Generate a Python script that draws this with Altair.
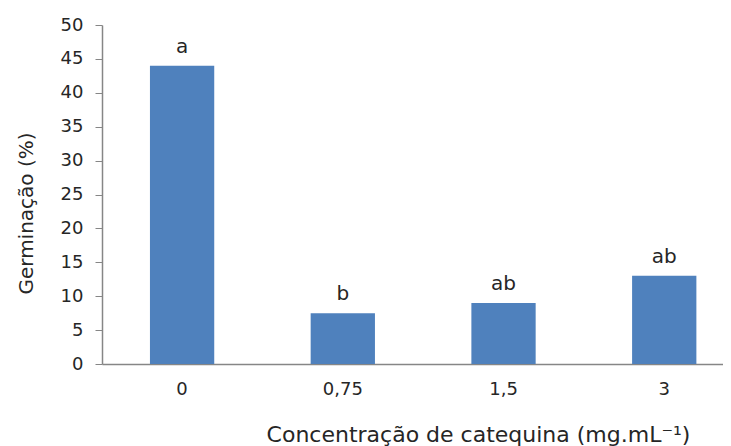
import altair as alt
import pandas as pd

categories = ["0", "0,75", "1,5", "3"]
germinacao = [44.0, 7.5, 9.0, 13.0]
letras = ["a", "b", "ab", "ab"]
y_ticks = [0, 5, 10, 15, 20, 25, 30, 35, 40, 45, 50]

df = pd.DataFrame({"conc": categories, "germ": germinacao, "letra": letras})

FONT = "DejaVu Sans"
TXT = "#262626"

x = alt.X(
    "conc:N",
    sort=categories,
    scale=alt.Scale(paddingInner=0.6, paddingOuter=0.232, align=0.643),
    axis=alt.Axis(
        title="Concentração de catequina (mg.mL⁻¹)",
        labelAngle=0,
        ticks=False,
        grid=False,
        labelPadding=16,
        labelFontSize=18,
        labelFont=FONT,
        labelColor=TXT,
        titleFont=FONT,
        titleFontSize=22,
        titleFontWeight="normal",
        titleColor=TXT,
        titleX=376,
        titleY=77,
        titleAlign="center",
        titleBaseline="alphabetic",
        domainColor="#868686",
        domainWidth=1.5,
    ),
)

y = alt.Y(
    "germ:Q",
    scale=alt.Scale(domain=[0, 50], nice=False),
    axis=alt.Axis(
        title="Germinação (%)",
        values=y_ticks,
        labelOverlap=False,
        grid=False,
        tickSize=7,
        tickColor="#868686",
        domainColor="#868686",
        domainWidth=1.5,
        labelPadding=12,
        labelFontSize=18,
        labelFont=FONT,
        labelColor=TXT,
        titleFont=FONT,
        titleFontSize=20,
        titleFontWeight="normal",
        titleColor=TXT,
        titlePadding=24,
        titleY=188,
        titleAlign="center",
    ),
)

bars = alt.Chart(df).mark_bar(color="#4F81BD").encode(x=x, y=y)

labels = alt.Chart(df).mark_text(
    baseline="bottom", dy=-9, fontSize=20, font=FONT, color=TXT
).encode(x=x, y=y, text="letra:N")

chart = (
    alt.layer(bars, labels)
    .properties(
        width=621,
        height=339,
        background="white",
        autosize=alt.AutoSizeParams(type="none"),
        padding={"left": 94, "top": 17, "right": 0, "bottom": 82},
    )
    .configure_view(strokeWidth=0)
    .configure_axis(grid=False)
)

chart.save("out.html", embed_options={"renderer": "svg", "actions": False})
